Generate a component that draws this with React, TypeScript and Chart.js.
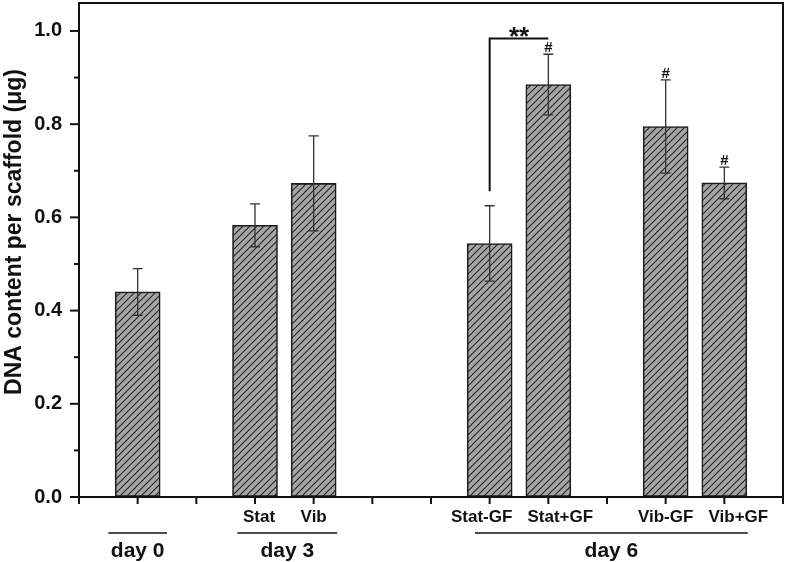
import React, { useEffect, useRef } from 'react';
import { Chart, registerables } from 'chart.js';

Chart.register(...registerables);

// ---- data ----
const positions = [1, 3, 4, 7, 8, 10, 11];
const values = [0.44, 0.583, 0.673, 0.544, 0.885, 0.795, 0.674];
const errors = [0.05, 0.046, 0.102, 0.081, 0.065, 0.1, 0.034];
const tickLabels = ['', '', '', 'Stat', 'Vib', '', '', 'Stat-GF', 'Stat+GF', '', 'Vib-GF', 'Vib+GF', ''];
const groupLabels = ['day 0', 'day 3', 'day 6'];
const groupStarts = [0.5, 2.7, 6.75];
const groupEnds = [1.5, 4.4, 11.4];
const hashPositions = [8, 10, 11];
const bracketFrom = 7;
const bracketTo = 8;
const bracketTop = 0.984;
const bracketBottom = 0.656;
const bracketLabel = '**';
const yTitle = 'DNA content per scaffold (\u03bcg)';

// label nudges (px) as placed in the original figure
const labelNudge: Record<number, number> = { 3: 4, 4: 0, 7: -8, 8: 12, 10: 0, 11: 14 };

const FONT = '"Liberation Sans", Arial, Helvetica, sans-serif';
const INK = '#111111';

function makeHatch(): CanvasPattern | string {
  const s = 7;
  const c = document.createElement('canvas');
  c.width = s;
  c.height = s;
  const g = c.getContext('2d');
  if (!g) return '#a9a9a9';
  g.fillStyle = '#a6a6a6';
  g.fillRect(0, 0, s, s);
  g.strokeStyle = '#2a2a2a';
  g.lineWidth = 1.2;
  g.beginPath();
  g.moveTo(-1, s + 1);
  g.lineTo(s + 1, -1);
  g.moveTo(-s / 2 - 1, s / 2 + 1);
  g.lineTo(s / 2 + 1, -s / 2 - 1);
  g.moveTo(s / 2 - 1, s * 1.5 + 1);
  g.lineTo(s * 1.5 + 1, s / 2 - 1);
  g.stroke();
  return g.createPattern(c, 'repeat') || '#a9a9a9';
}

function isMultiple(v: number, step: number) {
  const r = v / step;
  return Math.abs(r - Math.round(r)) < 1e-6;
}

function centeredText(ctx: CanvasRenderingContext2D, text: string, x: number, cy: number) {
  const m = ctx.measureText(text);
  const a = m.actualBoundingBoxAscent;
  const d = m.actualBoundingBoxDescent;
  ctx.textBaseline = 'alphabetic';
  ctx.fillText(text, x, cy + (a - d) / 2);
}

const decorPlugin = {
  id: 'decor',
  afterDatasetsDraw(chart: any) {
    const ctx: CanvasRenderingContext2D = chart.ctx;
    const xs = chart.scales.x;
    const ys = chart.scales.y;
    ctx.save();
    ctx.strokeStyle = '#333333';
    ctx.lineWidth = 1.3;
    positions.forEach((p, i) => {
      const x = xs.getPixelForValue(p);
      const yTop = ys.getPixelForValue(values[i] + errors[i]);
      const yBot = ys.getPixelForValue(values[i] - errors[i]);
      ctx.beginPath();
      ctx.moveTo(x, yTop);
      ctx.lineTo(x, yBot);
      ctx.moveTo(x - 5, yTop);
      ctx.lineTo(x + 5, yTop);
      ctx.moveTo(x - 5, yBot);
      ctx.lineTo(x + 5, yBot);
      ctx.stroke();
    });
    ctx.restore();
  },
  afterDraw(chart: any) {
    const ctx: CanvasRenderingContext2D = chart.ctx;
    const xs = chart.scales.x;
    const ys = chart.scales.y;
    const area = chart.chartArea;
    ctx.save();
    // frame
    ctx.strokeStyle = INK;
    ctx.lineWidth = 2;
    ctx.strokeRect(area.left, area.top, area.right - area.left, area.bottom - area.top);
    // y ticks
    ys.ticks.forEach((t: any) => {
      if (!isMultiple(t.value, 0.1)) return;
      const y = ys.getPixelForValue(t.value);
      const len = isMultiple(t.value, 0.2) ? 9 : 5;
      ctx.beginPath();
      ctx.moveTo(area.left - len, y);
      ctx.lineTo(area.left, y);
      ctx.stroke();
    });
    // x ticks + labels
    ctx.fillStyle = INK;
    ctx.font = `bold 17px ${FONT}`;
    ctx.textAlign = 'center';
    ctx.textBaseline = 'alphabetic';
    xs.ticks.forEach((t: any) => {
      const x = xs.getPixelForValue(t.value);
      ctx.beginPath();
      ctx.moveTo(x, area.bottom);
      ctx.lineTo(x, area.bottom + 7);
      ctx.stroke();
      const idx = Math.round(t.value);
      const lab = tickLabels[idx] || '';
      if (lab) ctx.fillText(lab, x + (labelNudge[idx] || 0), area.bottom + 25);
    });
    // group lines and labels
    ctx.font = `bold 21px ${FONT}`;
    groupLabels.forEach((lab, i) => {
      const x0 = xs.getPixelForValue(groupStarts[i]);
      const x1 = xs.getPixelForValue(groupEnds[i]);
      ctx.lineWidth = 1.6;
      ctx.beginPath();
      ctx.moveTo(x0, area.bottom + 36);
      ctx.lineTo(x1, area.bottom + 36);
      ctx.stroke();
      ctx.fillText(lab, (x0 + x1) / 2, area.bottom + 60);
    });
    // hash marks
    ctx.font = `bold 15px ${FONT}`;
    hashPositions.forEach((p) => {
      const i = positions.indexOf(p);
      const x = xs.getPixelForValue(p);
      const y = ys.getPixelForValue(values[i] + errors[i]);
      centeredText(ctx, '#', x, y - 7);
    });
    // bracket
    const bx0 = xs.getPixelForValue(bracketFrom);
    const bx1 = xs.getPixelForValue(bracketTo);
    const by = ys.getPixelForValue(bracketTop);
    const bb = ys.getPixelForValue(bracketBottom);
    ctx.lineWidth = 2;
    ctx.beginPath();
    ctx.moveTo(bx0, bb);
    ctx.lineTo(bx0, by);
    ctx.lineTo(bx1, by);
    ctx.stroke();
    ctx.font = `bold 26px ${FONT}`;
    centeredText(ctx, bracketLabel, (bx0 + bx1) / 2, by - 6);
    // y title
    ctx.font = `bold 23px ${FONT}`;
    ctx.translate(21, (area.top + area.bottom) / 2 - 18);
    ctx.rotate(-Math.PI / 2);
    ctx.textAlign = 'center';
    ctx.textBaseline = 'alphabetic';
    ctx.fillText(yTitle, 0, 0);
    ctx.restore();
  },
};

export default function App() {
  const ref = useRef<HTMLCanvasElement | null>(null);
  useEffect(() => {
    if (!ref.current) return;
    const hatch = makeHatch();
    const chart = new Chart(ref.current, {
      type: 'bar',
      data: {
        datasets: [
          {
            data: positions.map((p, i) => ({ x: p, y: values[i] })),
            backgroundColor: hatch as any,
            borderColor: '#1a1a1a',
            borderWidth: 1.6,
            borderSkipped: false,
            barThickness: 45,
          },
        ],
      },
      options: {
        animation: false,
        responsive: true,
        maintainAspectRatio: false,
        events: [],
        layout: { padding: { top: 3, right: 4, left: 0, bottom: 0 } },
        plugins: { legend: { display: false }, tooltip: { enabled: false } },
        scales: {
          x: {
            type: 'linear',
            min: 0,
            max: 12,
            offset: false,
            grid: { display: false },
            border: { display: false },
            ticks: {
              stepSize: 1,
              autoSkip: false,
              maxRotation: 0,
              display: false,
            },
            afterFit: (s: any) => {
              s.height = 65;
              s.paddingLeft = 0;
              s.paddingRight = 0;
              s.paddingTop = 0;
              s.paddingBottom = 0;
            },
          },
          y: {
            type: 'linear',
            min: 0,
            max: 1.06,
            grid: {
              display: true,
              drawOnChartArea: false,
              drawTicks: true,
              tickLength: 9,
              color: 'rgba(0,0,0,0)',
            },
            border: { display: false },
            ticks: {
              stepSize: 0.1,
              autoSkip: false,
              padding: 8,
              color: INK,
              font: { family: FONT, size: 20, weight: 'bold' },
              callback: (v: any) => {
                const n = Number(v);
                if (!isMultiple(n, 0.2)) return '';
                return n.toFixed(1);
              },
            },
            afterFit: (s: any) => {
              s.width = 79;
              s.paddingTop = 0;
              s.paddingBottom = 0;
              s.paddingLeft = 0;
              s.paddingRight = 0;
            },
          },
        },
      },
      plugins: [decorPlugin],
    });
    return () => chart.destroy();
  }, []);
  return (
    <div style={{ position: 'absolute', left: 0, top: 0, width: 787, height: 562, background: '#fff' }}>
      <canvas ref={ref} />
    </div>
  );
}
